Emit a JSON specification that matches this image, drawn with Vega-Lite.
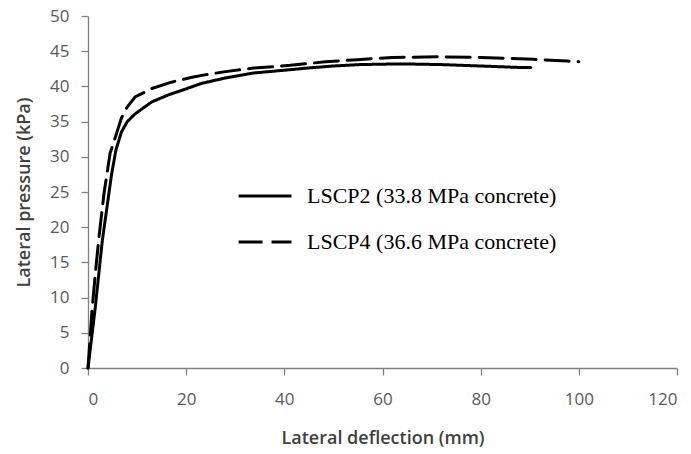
{
  "$schema": "https://vega.github.io/schema/vega-lite/v6.json",
  "autosize": {"type": "none"},
  "width": 589,
  "height": 352,
  "padding": {"left": 88, "top": 16, "right": 14, "bottom": 86},
  "background": "white",
  "config": {
    "view": {"stroke": null},
    "axis": {
      "grid": false,
      "domainColor": "#808080",
      "tickColor": "#808080",
      "domainWidth": 1.3,
      "tickWidth": 1.3,
      "tickSize": 7,
      "labelFont": "Open Sans",
      "labelFontSize": 17,
      "labelColor": "#595959",
      "titleFont": "Open Sans",
      "titleFontSize": 18,
      "titleFontWeight": 600,
      "titleColor": "#404040"
    }
  },
  "data": {
    "values": [
      {"series": "LSCP2 (33.8 MPa concrete)", "x": 0, "y": 0},
      {"series": "LSCP2 (33.8 MPa concrete)", "x": 1.5, "y": 8.7},
      {"series": "LSCP2 (33.8 MPa concrete)", "x": 2.9, "y": 18},
      {"series": "LSCP2 (33.8 MPa concrete)", "x": 4.0, "y": 23.5},
      {"series": "LSCP2 (33.8 MPa concrete)", "x": 4.8, "y": 27.5},
      {"series": "LSCP2 (33.8 MPa concrete)", "x": 5.7, "y": 31},
      {"series": "LSCP2 (33.8 MPa concrete)", "x": 6.8, "y": 33.5},
      {"series": "LSCP2 (33.8 MPa concrete)", "x": 8, "y": 35},
      {"series": "LSCP2 (33.8 MPa concrete)", "x": 9.6, "y": 36.1},
      {"series": "LSCP2 (33.8 MPa concrete)", "x": 13, "y": 37.8},
      {"series": "LSCP2 (33.8 MPa concrete)", "x": 16.4, "y": 38.8},
      {"series": "LSCP2 (33.8 MPa concrete)", "x": 19.8, "y": 39.6},
      {"series": "LSCP2 (33.8 MPa concrete)", "x": 23, "y": 40.4},
      {"series": "LSCP2 (33.8 MPa concrete)", "x": 28, "y": 41.2},
      {"series": "LSCP2 (33.8 MPa concrete)", "x": 33.7, "y": 41.9},
      {"series": "LSCP2 (33.8 MPa concrete)", "x": 40, "y": 42.3},
      {"series": "LSCP2 (33.8 MPa concrete)", "x": 44.6, "y": 42.6},
      {"series": "LSCP2 (33.8 MPa concrete)", "x": 50, "y": 42.9},
      {"series": "LSCP2 (33.8 MPa concrete)", "x": 55.5, "y": 43.1},
      {"series": "LSCP2 (33.8 MPa concrete)", "x": 63.7, "y": 43.2},
      {"series": "LSCP2 (33.8 MPa concrete)", "x": 72, "y": 43.1},
      {"series": "LSCP2 (33.8 MPa concrete)", "x": 80, "y": 42.9},
      {"series": "LSCP2 (33.8 MPa concrete)", "x": 87.5, "y": 42.7},
      {"series": "LSCP2 (33.8 MPa concrete)", "x": 90.2, "y": 42.7},
      {"series": "LSCP4 (36.6 MPa concrete)", "x": 0, "y": 0},
      {"series": "LSCP4 (36.6 MPa concrete)", "x": 0.8, "y": 8},
      {"series": "LSCP4 (36.6 MPa concrete)", "x": 1.5, "y": 13.5},
      {"series": "LSCP4 (36.6 MPa concrete)", "x": 2.3, "y": 19},
      {"series": "LSCP4 (36.6 MPa concrete)", "x": 3.3, "y": 25},
      {"series": "LSCP4 (36.6 MPa concrete)", "x": 4.5, "y": 30.5},
      {"series": "LSCP4 (36.6 MPa concrete)", "x": 5.9, "y": 33.5},
      {"series": "LSCP4 (36.6 MPa concrete)", "x": 6.8, "y": 35.5},
      {"series": "LSCP4 (36.6 MPa concrete)", "x": 7.9, "y": 37},
      {"series": "LSCP4 (36.6 MPa concrete)", "x": 9.6, "y": 38.5},
      {"series": "LSCP4 (36.6 MPa concrete)", "x": 13, "y": 39.7},
      {"series": "LSCP4 (36.6 MPa concrete)", "x": 17, "y": 40.6},
      {"series": "LSCP4 (36.6 MPa concrete)", "x": 21.2, "y": 41.3},
      {"series": "LSCP4 (36.6 MPa concrete)", "x": 23.5, "y": 41.6},
      {"series": "LSCP4 (36.6 MPa concrete)", "x": 28, "y": 42.1},
      {"series": "LSCP4 (36.6 MPa concrete)", "x": 33.7, "y": 42.6},
      {"series": "LSCP4 (36.6 MPa concrete)", "x": 41.2, "y": 43.0},
      {"series": "LSCP4 (36.6 MPa concrete)", "x": 48.4, "y": 43.5},
      {"series": "LSCP4 (36.6 MPa concrete)", "x": 54.8, "y": 43.8},
      {"series": "LSCP4 (36.6 MPa concrete)", "x": 62, "y": 44.1},
      {"series": "LSCP4 (36.6 MPa concrete)", "x": 71.2, "y": 44.2},
      {"series": "LSCP4 (36.6 MPa concrete)", "x": 80, "y": 44.1},
      {"series": "LSCP4 (36.6 MPa concrete)", "x": 85.4, "y": 44.0},
      {"series": "LSCP4 (36.6 MPa concrete)", "x": 90.8, "y": 43.85},
      {"series": "LSCP4 (36.6 MPa concrete)", "x": 97.7, "y": 43.6},
      {"series": "LSCP4 (36.6 MPa concrete)", "x": 100, "y": 43.5}
    ]
  },
  "mark": {"type": "line", "color": "black", "strokeWidth": 3, "strokeCap": "round"},
  "encoding": {
    "x": {
      "field": "x", "type": "quantitative",
      "scale": {"domain": [0, 120], "nice": false, "zero": true},
      "axis": {"values": [0, 20, 40, 60, 80, 100, 120], "title": "Lateral deflection (mm)", "labelPadding": 16, "titlePadding": 22}
    },
    "y": {
      "field": "y", "type": "quantitative",
      "scale": {"domain": [0, 50], "nice": false},
      "axis": {"values": [0, 5, 10, 15, 20, 25, 30, 35, 40, 45, 50], "title": "Lateral pressure (kPa)", "labelPadding": 12, "titlePadding": 16}
    },
    "strokeDash": {
      "field": "series", "type": "nominal",
      "scale": {"domain": ["LSCP2 (33.8 MPa concrete)", "LSCP4 (36.6 MPa concrete)"], "range": [[1, 0], [24, 9]]},
      "legend": {
        "title": null,
        "orient": "none",
        "legendX": 149,
        "legendY": 152,
        "symbolType": "stroke",
        "symbolSize": 2800,
        "symbolStrokeWidth": 3,
        "symbolStrokeColor": "black",
        "labelFont": "Liberation Serif",
        "labelFontSize": 22,
        "labelColor": "black",
        "labelOffset": 14,
        "rowPadding": 7,
        "labelLimit": 400
      }
    }
  }
}
